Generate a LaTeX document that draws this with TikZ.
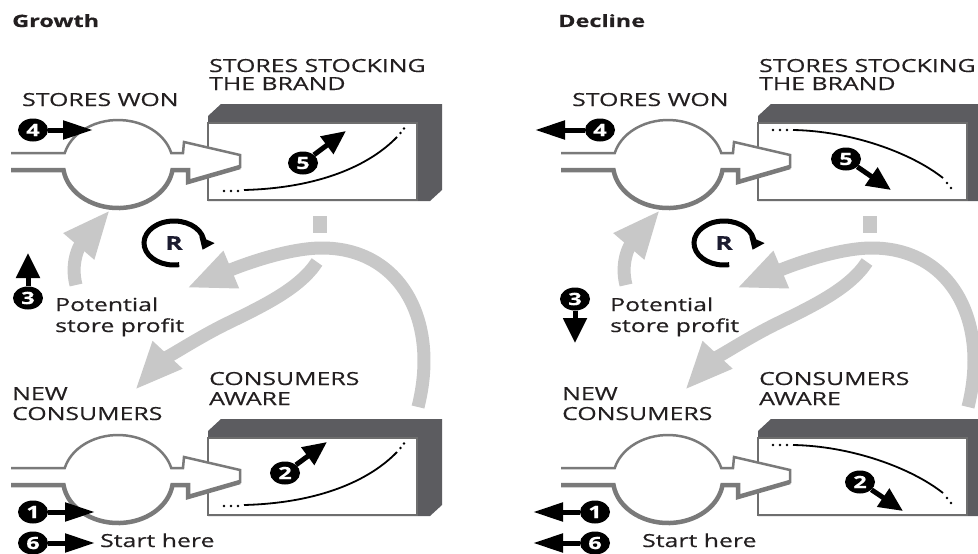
\documentclass[tikz,border=0pt]{standalone}
\usepackage{fontspec}
\setmainfont{Open Sans}[FakeStretch=1.38, FakeBold=0.45]
\usetikzlibrary{arrows.meta,shapes.geometric}
\definecolor{txt}{HTML}{231F20}
\definecolor{lgray}{HTML}{C8C8C8}
\definecolor{fgray}{HTML}{7A7A7A}
\definecolor{dgray}{HTML}{5C5C60}
\definecolor{bgray}{HTML}{6E6E6E}
\definecolor{rnavy}{HTML}{1C1C30}
\tikzset{
  lbl/.style={anchor=base west, inner sep=0pt, text=txt, font=\fontsize{18}{20}\selectfont},
  ttl/.style={anchor=base west, inner sep=0pt, text=txt, font=\fontsize{17}{20}\selectfont\bfseries},
  badge/.style={ellipse, fill=black, text=white, inner sep=0pt, minimum width=30pt, minimum height=23pt, font=\fontsize{17}{17}\selectfont\bfseries},
  harrow/.style={draw=black, line width=5pt, -{Triangle[length=30pt,width=18pt]}},
  varrow/.style={draw=black, line width=5pt, -{Triangle[length=25pt,width=23pt]}},
  darrow/.style={draw=black, line width=5pt, -{Triangle[length=24pt,width=21pt]}},
  garrow/.style={draw=lgray, line width=13pt, -{Triangle[length=48pt,width=37pt]}},
  gstub/.style={draw=lgray, line width=14pt},
  flowthin/.style={draw=fgray, line width=2.5pt},
  flowthick/.style={draw=fgray, line width=4.5pt},
  stockface/.style={draw=bgray, line width=2.5pt, fill=white, minimum width=209pt, minimum height=77pt, inner sep=0pt},
  conv/.style={ellipse, minimum width=110pt, minimum height=88pt, inner sep=0pt},
  trend/.style={draw=black, line width=1.8pt},
  dotm/.style={fill=black, circle, inner sep=0pt, minimum size=2.8pt},
  rloop/.style={draw=black, line width=5pt, -{Triangle[length=11pt,width=16pt]}},
  rlet/.style={inner sep=0pt, text=rnavy, font=\fontsize{19}{19}\selectfont\bfseries},
}
\begin{document}
\begin{tikzpicture}[x=1pt, y=-1pt]
\useasboundingbox (0,0) rectangle (978,554);
\fill[white] (0,0) rectangle (978,554);
\clip (0,0) rectangle (978,554);
\foreach \p/\dx/\ttl/\ttlx/\potx in {g/0/Growth/12/55, d/550/Decline/8/60}{
\begin{scope}[xshift=\dx pt]
  \node[ttl] (\p-title) at (\ttlx,27) {\ttl};
  % grey causal arrows
  \coordinate (\p-a0) at (320,216);
  \coordinate (\p-a1) at (320,233);
  \coordinate (\p-a2) at (317,262);
  \coordinate (\p-a3) at (135,390);
  \draw[gstub] (\p-a0) -- (\p-a1);
  \draw[garrow] (\p-a2) .. controls (300,288) and (265,305) .. (228,323) .. controls (195,339) and (160,363) .. (\p-a3);
  \coordinate (\p-b0) at (418,407);
  \coordinate (\p-b1) at (322,248);
  \coordinate (\p-b2) at (187,288);
  \draw[garrow] (\p-b0) .. controls (440,320) and (400,248) .. (\p-b1) .. controls (285,248) and (235,268) .. (\p-b2);
  \coordinate (\p-c0) at (76,285);
  \coordinate (\p-c1) at (110,210);
  \draw[garrow] (\p-c0) .. controls (70,262) and (80,245) .. (\p-c1);
  % reinforcing loop symbol
  \node[rlet] (\p-R) at (174,243) {R};
  \draw[rloop] ([shift={(80:30 and 22)}]\p-R.center) arc[start angle=80, end angle=378, x radius=30, y radius=22];
  % stocks and flows
  \foreach \s/\sy in {u/0, l/315}{
    \fill[dgray] (208,116+\sy) -- (221,104+\sy) -- (442,104+\sy) -- (442,190+\sy) -- (430,201+\sy) -- (208,201+\sy) -- cycle;
    \node[stockface] (\p-\s-box) at (312.5,161.5+\sy) {};
    \node[conv] (\p-\s-conv) at (118,164+\sy) {};
    \fill[white] (170,153+\sy) -- (183,153+\sy) -- (184,142+\sy) -- (240,155+\sy) -- (240,167+\sy) -- (188,182+\sy) -- (188,170+\sy) -- (170,170+\sy) -- cycle;
    \draw[flowthin] (11,153+\sy) -- (64.75,153+\sy) arc[start angle=194.5, end angle=345.5, x radius=55, y radius=44] -- (183,153+\sy) -- (184,142+\sy) -- (240,155+\sy) -- (240,168+\sy);
    \draw[flowthick] (11,170+\sy) -- (63.5,170+\sy) arc[start angle=172.2, end angle=7.8, x radius=55, y radius=44] -- (188,170+\sy) -- (188,182+\sy) -- (240,167+\sy);
  }
  % labels
  \node[lbl] (\p-sw) at (22,106) {STORES WON};
  \node[lbl] (\p-ss1) at (209,72) {STORES STOCKING};
  \node[lbl] (\p-ss2) at (209,90) {THE BRAND};
  \node[lbl] (\p-pot1) at (\potx,311) {Potential};
  \node[lbl] (\p-pot2) at (\potx,332) {store profit};
  \node[lbl] (\p-nc1) at (12,400) {NEW};
  \node[lbl] (\p-nc2) at (12,420) {CONSUMERS};
  \node[lbl] (\p-ca1) at (209,385) {CONSUMERS};
  \node[lbl] (\p-ca2) at (209,405) {AWARE};
\end{scope}
}
% ---- Growth trends
\foreach \sy in {0,315}{
  \draw[trend] (244,190+\sy) .. controls (320,188+\sy) and (370,165+\sy) .. (397,137+\sy);
  \foreach \qx/\qy in {224/191,231/191,238/191,400.5/133,404/128.5}{
    \node[dotm] at (\qx,\qy+\sy) {};
  }
}
% ---- Decline trends
\foreach \sy in {0,315}{
  \draw[trend] (793,130+\sy) .. controls (850,131+\sy) and (910,152+\sy) .. (943,178+\sy);
  \foreach \qx/\qy in {773/130,780/130,787/130,947/183,951/188}{
    \node[dotm] at (\qx,\qy+\sy) {};
  }
}
% ---- Growth badges
\node[badge] (g-b4) at (33,130) {4};
\coordinate (g-t4) at (93,130);
\draw[harrow] (g-b4) -- (g-t4);
\node[badge] (g-b5) at (303,163) {5};
\coordinate (g-t5) at (346,131);
\draw[darrow] (g-b5) -- (g-t5);
\node[badge] (g-b3) at (28,298) {3};
\coordinate (g-t3) at (28,253);
\draw[varrow] (g-b3) -- (g-t3);
\node[badge] (g-b2) at (285,473) {2};
\coordinate (g-t2) at (327,442);
\draw[darrow] (g-b2) -- (g-t2);
\node[badge] (g-b1) at (33,512) {1};
\coordinate (g-t1) at (95,512);
\draw[harrow] (g-b1) -- (g-t1);
\node[badge] (g-b6) at (33,543) {6};
\coordinate (g-t6) at (95,543);
\draw[harrow] (g-b6) -- (g-t6);
\node[lbl] (g-start) at (100,547) {Start here};
% ---- Decline badges
\node[badge] (d-b4) at (600,130) {4};
\coordinate (d-t4) at (535,130);
\draw[harrow] (d-b4) -- (d-t4);
\node[badge] (d-b5) at (846,159) {5};
\coordinate (d-t5) at (891,190);
\draw[darrow] (d-b5) -- (d-t5);
\node[badge] (d-b3) at (575,299) {3};
\coordinate (d-t3) at (575,343);
\draw[varrow] (d-b3) -- (d-t3);
\node[badge] (d-b2) at (860,482) {2};
\coordinate (d-t2) at (903,511);
\draw[darrow] (d-b2) -- (d-t2);
\node[badge] (d-b1) at (595,512) {1};
\coordinate (d-t1) at (533,512);
\draw[harrow] (d-b1) -- (d-t1);
\node[badge] (d-b6) at (595,543) {6};
\coordinate (d-t6) at (533,543);
\draw[harrow] (d-b6) -- (d-t6);
\node[lbl] (d-start) at (642,547) {Start here};
\end{tikzpicture}
\end{document}
